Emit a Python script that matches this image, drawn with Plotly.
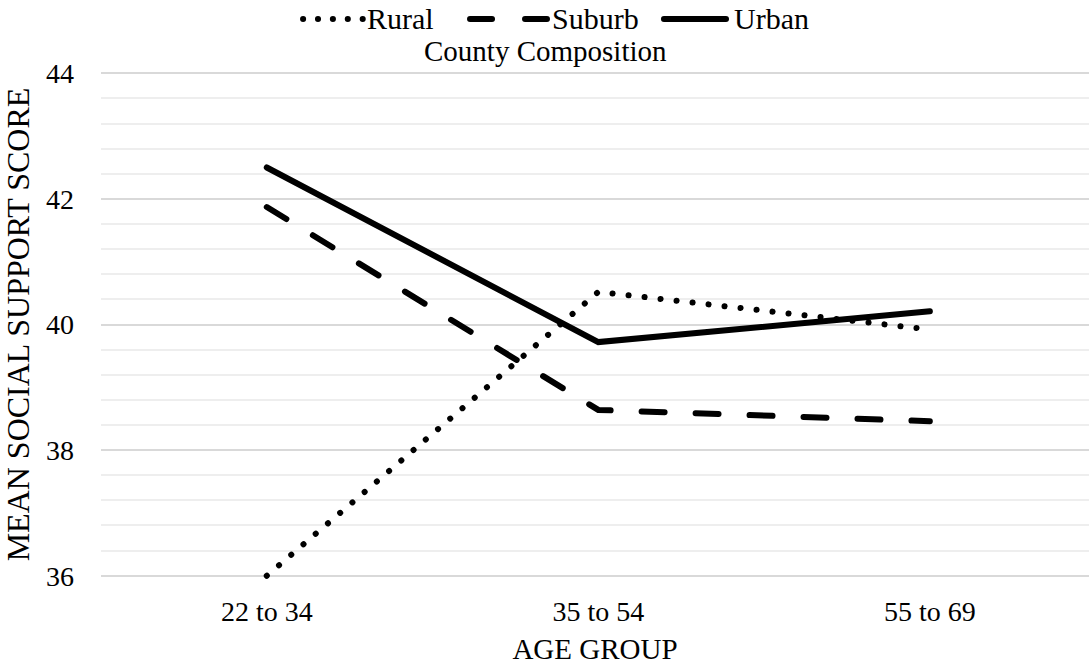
import plotly.graph_objects as go

# Mean social support score by age group and county composition
age_groups = ["22 to 34", "35 to 54", "55 to 69"]
rural = [36.0, 40.52, 39.92]
suburb = [41.87, 38.64, 38.46]
urban = [42.5, 39.72, 40.21]

series_names = ["Rural", "Suburb", "Urban"]
FONT = "'Liberation Serif', 'Times New Roman', Times, 'DejaVu Serif', serif"
INK = "#000000"

fig = go.Figure()

line_styles = {
    "Rural": dict(color=INK, width=6, dash="0.1px,16px"),
    "Suburb": dict(color=INK, width=6, dash="23px,31px"),
    "Urban": dict(color=INK, width=6, dash="solid"),
}

for name, values in zip(series_names, [rural, suburb, urban]):
    fig.add_trace(go.Scatter(
        x=age_groups, y=values, name=name, mode="lines",
        line=line_styles[name], showlegend=False, hoverinfo="skip",
    ))

# Legend drawn across the top: sample stroke followed by its label
legend_items = [
    ("Rural", 0.2045, 0.2655, "0.1px,14.8px", 0.2672),
    ("Suburb", 0.3735, 0.4514, "22px,33px", 0.4545),
    ("Urban", 0.5698, 0.6326, "solid", 0.6387),
]
legend_y = 1.0933
for label, x0, x1, dash, tx in legend_items:
    fig.add_shape(type="line", xref="paper", yref="paper",
                  x0=x0, x1=x1, y0=legend_y, y1=legend_y,
                  line=dict(color=INK, width=6, dash=dash))
    fig.add_annotation(text=label, xref="paper", yref="paper",
                       x=tx, y=legend_y, xanchor="left", yanchor="middle",
                       showarrow=False, font=dict(family=FONT, size=30, color=INK))

fig.add_annotation(text="County Composition", xref="paper", yref="paper",
                   x=0.4494, y=1.031, xanchor="center", yanchor="middle",
                   showarrow=False, font=dict(family=FONT, size=29, color=INK))

fig.update_layout(
    width=1089, height=666, autosize=False,
    margin=dict(l=101, r=0, t=67, b=84),
    paper_bgcolor="white", plot_bgcolor="white",
    font=dict(family=FONT, size=28, color=INK),
    xaxis=dict(
        type="category", categoryorder="array", categoryarray=age_groups,
        range=[-0.5, 2.48], showgrid=False, showline=False, zeroline=False,
        ticks="", ticklabelstandoff=10,
        tickfont=dict(family=FONT, size=28, color=INK),
        title=dict(text="AGE GROUP", standoff=12,
                   font=dict(family=FONT, size=29, color=INK)),
    ),
    yaxis=dict(
        range=[35.9, 44.1], tick0=36, dtick=2,
        showgrid=True, gridcolor="#d9d9d9", gridwidth=1.5,
        zeroline=False, showline=False, ticks="", ticklabelstandoff=26,
        tickfont=dict(family=FONT, size=28, color=INK),
        minor=dict(tick0=36, dtick=0.4, showgrid=True, gridcolor="#eeeeee", gridwidth=1.5),
        title=dict(text="MEAN SOCIAL SUPPORT SCORE", standoff=8,
                   font=dict(family=FONT, size=32, color=INK)),
    ),
)

round_caps = """
var gd = document.getElementById('{plot_id}');
function roundCaps() {
  gd.querySelectorAll('.scatterlayer .js-line, .shapelayer path').forEach(function (p) {
    p.style.strokeLinecap = 'round';
  });
}
roundCaps();
gd.on('plotly_afterplot', roundCaps);
"""

fig.write_html("out.html", post_script=round_caps)
